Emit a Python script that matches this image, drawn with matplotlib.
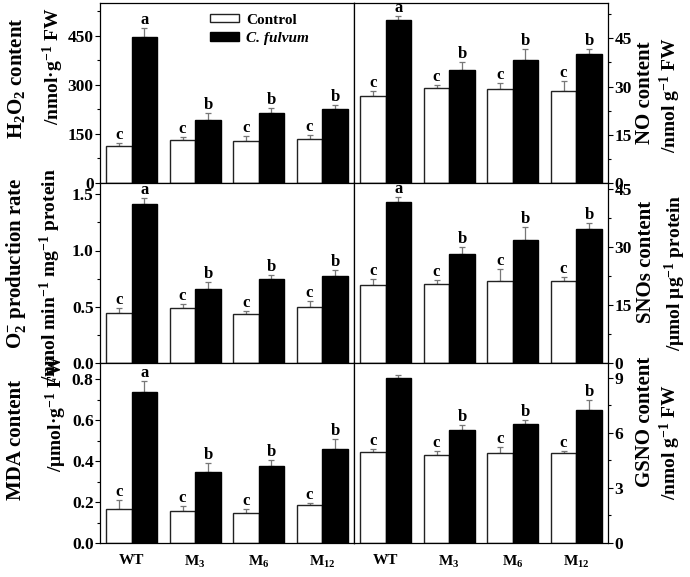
import numpy as np
import matplotlib
matplotlib.use('Agg')
import matplotlib.pyplot as plt
from matplotlib.ticker import MultipleLocator

plt.rcParams['font.family'] = 'Liberation Serif'
plt.rcParams['font.weight'] = 'bold'
plt.rcParams['mathtext.fontset'] = 'custom'
plt.rcParams['mathtext.rm'] = 'Liberation Serif:bold'
plt.rcParams['mathtext.bf'] = 'Liberation Serif:bold'
plt.rcParams['mathtext.it'] = 'Liberation Serif:bold:italic'
plt.rcParams['mathtext.default'] = 'rm'

groups = ['WT', 'M$_3$', 'M$_6$', 'M$_{12}$']

# values: (control, control err, C. fulvum, C. fulvum err)
h2o2_ctrl = [114, 131, 129, 135]
h2o2_ctrl_err = [9, 11, 14, 11]
h2o2_cf = [447, 191, 214, 226]
h2o2_cf_err = [28, 22, 15, 12]

no_ctrl = [27.1, 29.6, 29.3, 28.6]
no_ctrl_err = [1.6, 1.0, 1.8, 3.2]
no_cf = [50.6, 35.2, 38.4, 40.2]
no_cf_err = [1.5, 2.5, 3.3, 1.5]

o2_ctrl = [0.445, 0.49, 0.436, 0.50]
o2_ctrl_err = [0.042, 0.038, 0.03, 0.05]
o2_cf = [1.415, 0.656, 0.748, 0.77]
o2_cf_err = [0.055, 0.064, 0.038, 0.055]

snos_ctrl = [20.1, 20.3, 21.2, 21.3]
snos_ctrl_err = [1.5, 1.1, 3.0, 0.9]
snos_cf = [41.5, 28.1, 31.8, 34.7]
snos_cf_err = [1.3, 1.8, 3.3, 1.5]

mda_ctrl = [0.168, 0.158, 0.148, 0.187]
mda_ctrl_err = [0.044, 0.024, 0.018, 0.009]
mda_cf = [0.74, 0.349, 0.378, 0.459]
mda_cf_err = [0.053, 0.044, 0.026, 0.049]

gsno_ctrl = [4.97, 4.78, 4.89, 4.88]
gsno_ctrl_err = [0.13, 0.21, 0.35, 0.14]
gsno_cf = [8.96, 6.14, 6.47, 7.26]
gsno_cf_err = [0.2, 0.26, 0.2, 0.55]

letters_ctrl = ['c', 'c', 'c', 'c']
letters_cf = ['a', 'b', 'b', 'b']
letters_cf_gsno = ['', 'b', 'b', 'b']

W, H = 690, 577
fig = plt.figure(figsize=(W / 100, H / 100), dpi=100)

xl, xm, xr = 100, 354, 608
rows = [(3, 183), (183, 363), (363, 543)]


def make_ax(x0, x1, y0, y1):
    return fig.add_axes([x0 / W, 1 - y1 / H, (x1 - x0) / W, (y1 - y0) / H])


def draw_panel(ax, ctrl, ctrl_err, cf, cf_err, ylim, major, lets_cf, right=False):
    x = np.arange(len(groups))
    bw = 0.4
    ax.bar(x - bw / 2, ctrl, bw, color='white', edgecolor='#222222', linewidth=1,
           label='Control', zorder=2)
    ax.bar(x + bw / 2, cf, bw, color='black', edgecolor='black', linewidth=1,
           label='C. fulvum', zorder=2)
    ax.errorbar(x - bw / 2, ctrl, yerr=[np.zeros(4), ctrl_err], fmt='none',
                ecolor='#777777', elinewidth=0.9, capsize=2.5, capthick=0.9, zorder=1)
    ax.errorbar(x + bw / 2, cf, yerr=[np.zeros(4), cf_err], fmt='none',
                ecolor='#777777', elinewidth=0.9, capsize=2.5, capthick=0.9, zorder=1)
    for i in range(len(groups)):
        ax.annotate(letters_ctrl[i], (x[i] - bw / 2, ctrl[i] + ctrl_err[i]),
                    xytext=(0, 0), textcoords='offset points',
                    ha='center', va='bottom', fontsize=12, fontweight='bold')
        if lets_cf[i]:
            ax.annotate(lets_cf[i], (x[i] + bw / 2, cf[i] + cf_err[i]),
                        xytext=(0, 0), textcoords='offset points',
                        ha='center', va='bottom', fontsize=12, fontweight='bold')
    ax.set_xlim(-0.5, 3.5)
    ax.set_ylim(0, ylim)
    ax.yaxis.set_major_locator(MultipleLocator(major))
    ax.yaxis.set_minor_locator(MultipleLocator(major / 2))
    ax.tick_params(axis='y', which='major', direction='out', length=3.5, width=0.8,
                   labelsize=12.5, pad=1)
    ax.tick_params(axis='y', which='minor', direction='out', length=2, width=0.8)
    ax.tick_params(axis='x', length=0, labelsize=11, pad=8)
    ax.set_xticks(x)
    ax.set_xticklabels(groups)
    if right:
        ax.yaxis.tick_right()
    for s in ax.spines.values():
        s.set_linewidth(0.9)


panels = [
    (h2o2_ctrl, h2o2_ctrl_err, h2o2_cf, h2o2_cf_err, 550, 150, letters_cf),
    (no_ctrl, no_ctrl_err, no_cf, no_cf_err, 56, 15, letters_cf),
    (o2_ctrl, o2_ctrl_err, o2_cf, o2_cf_err, 1.6, 0.5, letters_cf),
    (snos_ctrl, snos_ctrl_err, snos_cf, snos_cf_err, 46.5, 15, letters_cf),
    (mda_ctrl, mda_ctrl_err, mda_cf, mda_cf_err, 0.88, 0.2, letters_cf),
    (gsno_ctrl, gsno_ctrl_err, gsno_cf, gsno_cf_err, 9.8, 3, letters_cf_gsno),
]

axes = []
for r, (y0, y1) in enumerate(rows):
    axL = make_ax(xl, xm, y0, y1)
    axR = make_ax(xm, xr, y0, y1)
    draw_panel(axL, *panels[2 * r])
    draw_panel(axR, *panels[2 * r + 1], right=True)
    if r < 2:
        axL.set_xticklabels([])
        axR.set_xticklabels([])
    axes.append((axL, axR))

leg = axes[0][0].legend(loc='upper left', bbox_to_anchor=(0.39, 1.0), frameon=False,
                        fontsize=11, handlelength=1.9, handleheight=0.45,
                        handletextpad=0.5, labelspacing=0.35, borderaxespad=0.3)
leg.get_texts()[1].set_fontstyle('italic')


def ylabel(text, x, y, size):
    fig.text(x / W, 1 - y / H, text, rotation=90, ha='center', va='center',
             fontsize=size, fontweight='bold')


# left column labels
ylabel('H$_2$O$_2$ content', 17, 78, 15)
ylabel('/nmol·g$^{-1}$ FW', 53, 66, 14)
ylabel('O$^{-}_{2}$ production rate', 16, 263, 15)
ylabel('/nmol min$^{-1}$ mg$^{-1}$ protein', 50, 275, 14)
ylabel('MDA content', 16, 440, 15)
ylabel('/μmol·g$^{-1}$ FW', 56, 413, 14)

# right column labels
ylabel('NO content', 645, 93, 15)
ylabel('/nmol g$^{-1}$ FW', 670, 95, 14)
ylabel('SNOs content', 646, 262, 15)
ylabel('/μmol μg$^{-1}$ protein', 675, 273, 14)
ylabel('GSNO content', 645, 422, 15)
ylabel('/nmol g$^{-1}$ FW', 670, 442, 14)

fig.savefig('out.png', dpi=100)
